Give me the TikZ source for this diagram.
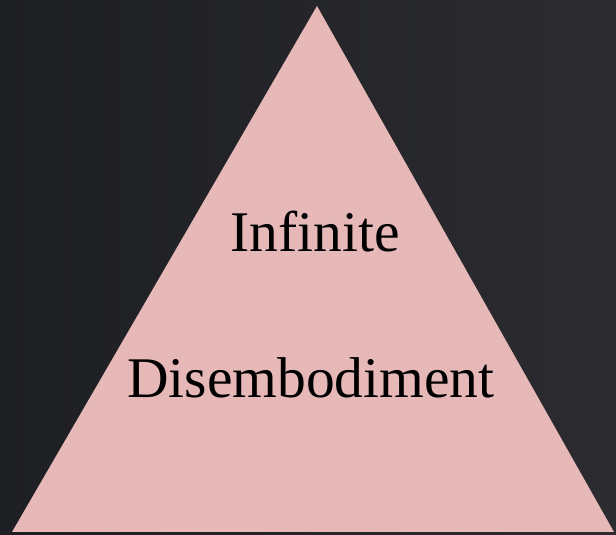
\documentclass[tikz,border=0pt]{standalone}
\usepackage{fontspec}
\setmainfont{Liberation Serif}
\definecolor{bgdark}{RGB}{30,31,35}
\definecolor{bglight}{RGB}{44,44,48}
\definecolor{pyrpink}{RGB}{230,184,183}
\usetikzlibrary{positioning}

\begin{document}
\begin{tikzpicture}[
  x=1pt, y=1pt,
  word/.style={text=black, anchor=base, inner sep=0pt, font=\fontsize{57.5}{68}\selectfont}
]
\shade[left color=bgdark, right color=bglight] (0,0) rectangle (616,535);
\useasboundingbox (0,0) rectangle (616,535);

\fill[pyrpink] (12,3) -- (317,529) -- (614,3) -- cycle;

\node[word] (inf) at (315,283) {Infinite};
\node[word] (dis) at (311,137) {Disembodiment};
\end{tikzpicture}
\end{document}
